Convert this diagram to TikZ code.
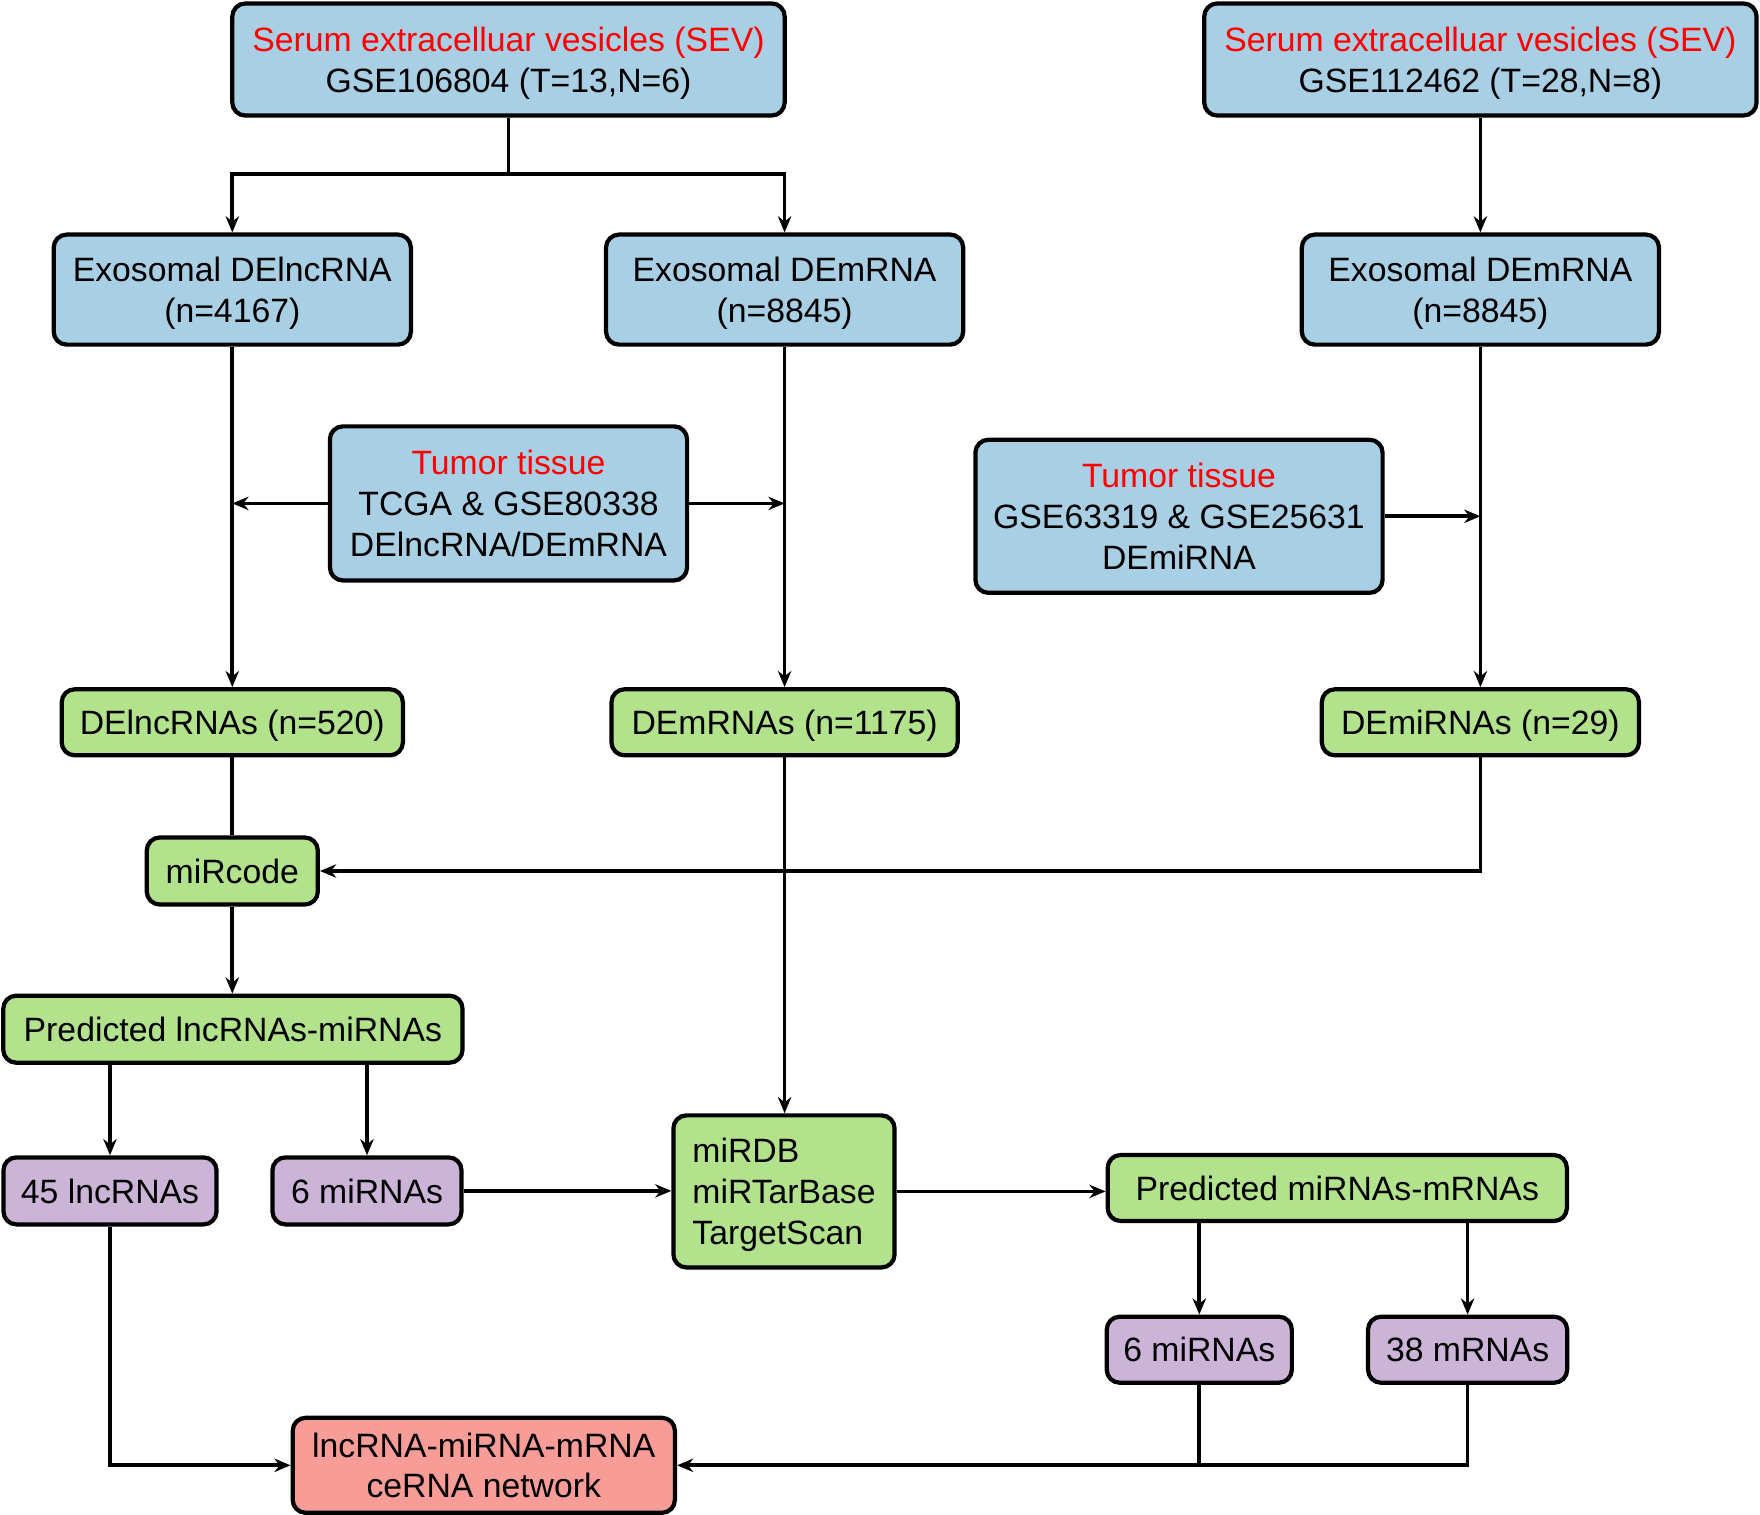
\documentclass[tikz,border=0pt]{standalone}
\usepackage{fontspec}
\setmainfont{Liberation Sans}
\usetikzlibrary{arrows.meta}
\definecolor{bluef}{HTML}{A8CFE4}
\definecolor{greenf}{HTML}{B3E28C}
\definecolor{purplef}{HTML}{CCB4D9}
\definecolor{redf}{HTML}{F89C98}
\definecolor{redt}{HTML}{FF0000}
\begin{document}
\begin{tikzpicture}[x=0.01cm,y=-0.01cm,
  box/.style={draw=black,line width=1.2pt,rounded corners=0.13cm,inner sep=0pt,align=center,
    text depth=0pt,font=\fontsize{9.6}{11.6}\selectfont},
  bluebox/.style={box,fill=bluef},
  greenbox/.style={box,fill=greenf},
  purplebox/.style={box,fill=purplef},
  redbox/.style={box,fill=redf},
  arr/.style={line width=1.05pt,-{Stealth[length=4.6pt,width=3.8pt]}},
  ln/.style={line width=1.05pt}]
\useasboundingbox (0,0) rectangle (1760,1515);
% row 1
\node[bluebox,minimum width=5.52cm,minimum height=1.12cm] (sev1) at (508.5,59.5)
  {\textcolor{redt}{Serum extracelluar vesicles (SEV)}\\GSE106804 (T=13,N=6)};
\node[bluebox,minimum width=5.52cm,minimum height=1.12cm] (sev2) at (1480.4,59.5)
  {\textcolor{redt}{Serum extracelluar vesicles (SEV)}\\GSE112462 (T=28,N=8)};
% row 2
\node[bluebox,minimum width=3.57cm,minimum height=1.10cm] (exoL) at (232.3,289.6)
  {Exosomal DElncRNA\\(n=4167)};
\node[bluebox,minimum width=3.57cm,minimum height=1.10cm] (exoM) at (784.6,289.6)
  {Exosomal DEmRNA\\(n=8845)};
\node[bluebox,minimum width=3.57cm,minimum height=1.10cm] (exoR) at (1480.4,289.6)
  {Exosomal DEmRNA\\(n=8845)};
% tumor tissue
\node[bluebox,minimum width=3.57cm,minimum height=1.54cm] (t1) at (508.5,503.4)
  {\textcolor{redt}{Tumor tissue}\\TCGA \& GSE80338\\DElncRNA/DEmRNA};
\node[bluebox,minimum width=4.07cm,minimum height=1.53cm] (t2) at (1179,516.3)
  {\textcolor{redt}{Tumor tissue}\\GSE63319 \& GSE25631\\DEmiRNA};
% row 3
\node[greenbox,minimum width=3.41cm,minimum height=0.66cm] (delnc) at (232.3,722.3)
  {DElncRNAs (n=520)};
\node[greenbox,minimum width=3.46cm,minimum height=0.66cm] (dem) at (784.6,722.3)
  {DEmRNAs (n=1175)};
\node[greenbox,minimum width=3.17cm,minimum height=0.66cm] (demi) at (1480.4,722.3)
  {DEmiRNAs (n=29)};
\node[greenbox,minimum width=1.71cm,minimum height=0.67cm] (mircode) at (232.3,871)
  {miRcode};
\node[greenbox,minimum width=4.59cm,minimum height=0.67cm] (predL) at (232.9,1029.2)
  {Predicted lncRNAs-miRNAs};
\node[purplebox,minimum width=2.13cm,minimum height=0.67cm] (l45) at (110,1190.9)
  {45 lncRNAs};
\node[purplebox,minimum width=1.89cm,minimum height=0.67cm] (mi6L) at (367,1190.9)
  {6 miRNAs};
\node[greenbox,minimum width=2.21cm,minimum height=1.52cm,align=left] (mirdb) at (784,1191.4)
  {miRDB\\miRTarBase\\TargetScan};
\node[greenbox,minimum width=4.59cm,minimum height=0.66cm] (predR) at (1337.3,1188)
  {Predicted miRNAs-mRNAs};
\node[purplebox,minimum width=1.85cm,minimum height=0.66cm] (mi6R) at (1199.3,1349.7)
  {6 miRNAs};
\node[purplebox,minimum width=1.99cm,minimum height=0.66cm] (m38) at (1467.6,1349.7)
  {38 mRNAs};
\node[redbox,minimum width=3.82cm,minimum height=0.95cm] (ce) at (483.8,1465.3)
  {lncRNA-miRNA-mRNA\\ceRNA network};
% connectors
\coordinate (s1) at (508.5,174);
\draw[ln] (sev1.south) -- (s1);
\draw[arr] (s1) -| (exoL.north);
\draw[arr] (s1) -| (exoM.north);
\draw[arr] (sev2.south) -- (exoR.north);
\draw[arr] (exoL.south) -- (delnc.north);
\draw[arr] (exoM.south) -- (dem.north);
\draw[arr] (exoR.south) -- (demi.north);
\draw[arr] (t1.west) -- (t1.west -| exoL.south);
\draw[arr] (t1.east) -- (t1.east -| exoM.south);
\draw[arr] (t2.east) -- (t2.east -| exoR.south);
\draw[ln] (delnc.south) -- (mircode.north);
\draw[arr] (demi.south) |- (mircode.east);
\draw[arr] (mircode.south) -- (mircode.south |- predL.north);
\draw[arr] (predL.south -| l45.north) -- (l45.north);
\draw[arr] (predL.south -| mi6L.north) -- (mi6L.north);
\draw[arr] (dem.south) -- (dem.south |- mirdb.north);
\draw[arr] (mi6L.east) -- (mi6L.east -| mirdb.west);
\draw[arr] (mirdb.east) -- (mirdb.east -| predR.west);
\draw[arr] (predR.south -| mi6R.north) -- (mi6R.north);
\draw[arr] (predR.south -| m38.north) -- (m38.north);
\draw[arr] (l45.south) |- (ce.west);
\draw[arr] (m38.south) |- (ce.east);
\draw[ln] (mi6R.south) -- (mi6R.south |- ce.east);
\end{tikzpicture}
\end{document}
